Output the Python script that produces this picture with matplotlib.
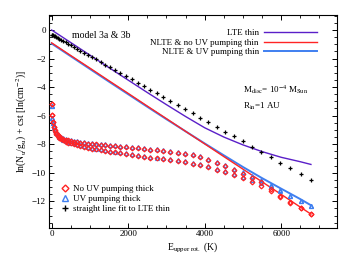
import matplotlib

matplotlib.use("Agg")
import matplotlib.pyplot as plt
from matplotlib.ticker import MultipleLocator

# CO-like rotational ladder: upper-level energies (K), J_up = 1..49
E_up = [5.5, 16.6, 33.2, 55.3, 83.0, 116.2, 154.9, 199.2, 248.9, 304.3,
        365.1, 431.5, 503.4, 580.9, 663.8, 752.4, 846.4, 946.0, 1051.1, 1161.7,
        1277.9, 1399.6, 1526.8, 1659.6, 1797.9, 1941.7, 2091.1, 2246.0, 2406.4, 2572.4,
        2743.9, 2920.9, 3103.5, 3291.5, 3485.2, 3684.3, 3889.0, 4099.2, 4315.0, 4536.2,
        4763.1, 4995.4, 5233.3, 5476.7, 5725.6, 5980.1, 6240.1, 6505.6, 6776.7]

# straight line fit to LTE thin (pluses)
fit_lte = [-0.33, -0.34, -0.37, -0.40, -0.44, -0.49, -0.55, -0.62, -0.69, -0.78,
           -0.87, -0.97, -1.08, -1.19, -1.32, -1.45, -1.59, -1.74, -1.90, -2.06,
           -2.24, -2.42, -2.61, -2.81, -3.02, -3.23, -3.46, -3.69, -3.93, -4.18,
           -4.44, -4.70, -4.98, -5.26, -5.55, -5.85, -6.15, -6.47, -6.79, -7.12,
           -7.46, -7.81, -8.17, -8.54, -8.91, -9.29, -9.68, -10.08, -10.49]

# optically thick, model 3a (upper branch)
noUV_3a = [-5.20, -5.95, -6.42, -6.78, -7.03, -7.20, -7.34, -7.45, -7.55, -7.62,
           -7.68, -7.73, -7.78, -7.82, -7.86, -7.90, -7.93, -7.96, -7.99, -8.02,
           -8.05, -8.08, -8.11, -8.14, -8.17, -8.20, -8.24, -8.28, -8.33, -8.38,
           -8.43, -8.48, -8.53, -8.59, -8.66, -8.77, -8.90, -9.08, -9.31, -9.55,
           -9.84, -10.10, -10.38, -10.66, -11.12, -11.62, -12.08, -12.50, -12.91]
UV_3a = [-5.35, -6.15, -6.50, -6.78, -7.00, -7.15, -7.29, -7.40, -7.50, -7.57,
         -7.63, -7.68, -7.73, -7.76, -7.80, -7.84, -7.87, -7.90, -7.93, -7.96,
         -7.99, -8.02, -8.05, -8.08, -8.11, -8.14, -8.18, -8.22, -8.27, -8.32,
         -8.37, -8.42, -8.47, -8.53, -8.60, -8.70, -8.83, -9.01, -9.24, -9.48,
         -9.76, -9.98, -10.22, -10.50, -10.85, -11.22, -11.60, -11.95, -12.30]

# optically thick, model 3b (lower branch)
noUV_3b = [-5.20, -5.95, -6.45, -6.82, -7.08, -7.27, -7.42, -7.54, -7.65, -7.74,
           -7.82, -7.89, -7.95, -8.01, -8.07, -8.13, -8.19, -8.25, -8.31, -8.37,
           -8.43, -8.48, -8.53, -8.58, -8.63, -8.68, -8.74, -8.80, -8.87, -8.95,
           -9.00, -9.05, -9.10, -9.17, -9.25, -9.37, -9.46, -9.62, -9.78, -9.97,
           -10.18, -10.40, -10.62, -10.90, -11.26, -11.68, -12.10, -12.50, -12.91]
UV_3b = [-5.35, -6.15, -6.52, -6.82, -7.04, -7.22, -7.36, -7.48, -7.59, -7.68,
         -7.76, -7.83, -7.89, -7.95, -8.01, -8.07, -8.13, -8.19, -8.25, -8.31,
         -8.37, -8.42, -8.47, -8.52, -8.57, -8.62, -8.68, -8.74, -8.81, -8.89,
         -8.94, -8.99, -9.04, -9.11, -9.19, -9.31, -9.40, -9.56, -9.72, -9.91,
         -10.10, -10.30, -10.50, -10.70, -10.95, -11.25, -11.62, -11.95, -12.30]

# optically thin curves
line_E = [0, 500, 1000, 1500, 2000, 2500, 3000, 3500, 4000, 4500, 5000, 5500, 6000, 6500, 6777]
lte_thin = [0.0, -0.88, -1.76, -2.64, -3.51, -4.38, -5.23, -6.06, -6.85, -7.50,
            -8.05, -8.52, -8.92, -9.23, -9.42]
nlte_noUV_thin = [-0.90, -1.79, -2.67, -3.56, -4.44, -5.33, -6.21, -7.10, -7.98, -8.87,
                  -9.75, -10.64, -11.52, -12.41, -12.90]
nlte_UV_thin = [-0.95, -1.84, -2.73, -3.62, -4.50, -5.38, -6.25, -7.10, -7.95, -8.78,
                -9.60, -10.38, -11.12, -11.85, -12.28]

PURPLE = "#5a1fc8"
RED = "#ff2424"
BLUE = "#3f7ff0"

plt.rcParams.update({
    "font.family": "Liberation Serif",
    "mathtext.fontset": "stix",
    "font.size": 6.5,
    "axes.linewidth": 0.8,
})

fig = plt.figure(figsize=(3.52, 2.59), dpi=100)
ax = fig.add_axes([0.138, 0.121, 0.8185, 0.821])

l1, = ax.plot(line_E, lte_thin, color=PURPLE, lw=1.0, zorder=3)
l3, = ax.plot(line_E, nlte_UV_thin, color=BLUE, lw=1.4, zorder=3)
l2, = ax.plot(line_E, nlte_noUV_thin, color=RED, lw=1.0, zorder=3)

mk = dict(ls="none", ms=2.8, mew=0.9, mfc="none", zorder=4)
ax.plot(E_up, UV_3a, marker="^", mec=BLUE, **mk)
ax.plot(E_up, UV_3b, marker="^", mec=BLUE, **mk)
ax.plot(E_up, noUV_3a, marker="D", mec=RED, **dict(mk, ms=2.4))
ax.plot(E_up, noUV_3b, marker="D", mec=RED, **dict(mk, ms=2.4))
ax.plot(E_up, fit_lte, ls="none", marker="+", color="black", ms=3.5, mew=0.9, zorder=5)

ax.set_xlim(-80, 7450)
ax.set_ylim(-13.85, 1.05)
ax.xaxis.set_major_locator(MultipleLocator(2000))
ax.xaxis.set_minor_locator(MultipleLocator(500))
ax.yaxis.set_major_locator(MultipleLocator(2))
ax.yaxis.set_minor_locator(MultipleLocator(0.5))
ax.tick_params(which="both", direction="in", top=True, right=True, labelsize=6.5, pad=2)
ax.tick_params(which="major", length=3.5, width=0.7)
ax.tick_params(which="minor", length=2, width=0.6)

ax.set_xlabel(r"E$_{\rm upper\ rot.}$ (K)", fontsize=7, labelpad=1)
ax.set_ylabel(r"ln(N$_{\rm u}$/g$_{\rm u}$) + cst [ln(cm$^{-2}$)]", fontsize=7, labelpad=2)

ax.text(520, -0.35, "model 3a & 3b", fontsize=7, va="center")
ax.text(4990, -4.2, r"M$_{\rm disc}$= 10$^{-4}$ M$_{\rm Sun}$", fontsize=6.5, va="center")
ax.text(4990, -5.38, r"R$_{\rm in}$=1 AU", fontsize=6.5, va="center")

leg1 = ax.legend([l1, l2, l3], ["LTE thin", "NLTE & no UV pumping thin", "NLTE & UV pumping thin"],
                 loc="upper right", bbox_to_anchor=(0.955, 0.965), frameon=False,
                 markerfirst=False, handlelength=5.9, handletextpad=0.6,
                 labelspacing=0.15, borderpad=0.2, fontsize=6.5)
ax.add_artist(leg1)

h1, = ax.plot([], [], ls="none", marker="D", mfc="none", mec=RED, ms=3.5, mew=1.0)
h2, = ax.plot([], [], ls="none", marker="^", mfc="none", mec=BLUE, ms=4, mew=1.0)
h3, = ax.plot([], [], ls="none", marker="+", color="black", ms=4.5, mew=1.0)
ax.legend([h1, h2, h3], ["No UV pumping thick", "UV pumping thick", "straight line fit to LTE thin"],
          loc="lower left", bbox_to_anchor=(0.02, 0.04), frameon=False,
          handlelength=1.0, handletextpad=0.4, labelspacing=0.15, borderpad=0.2, fontsize=6.5)

fig.savefig("out.png", dpi=100)
